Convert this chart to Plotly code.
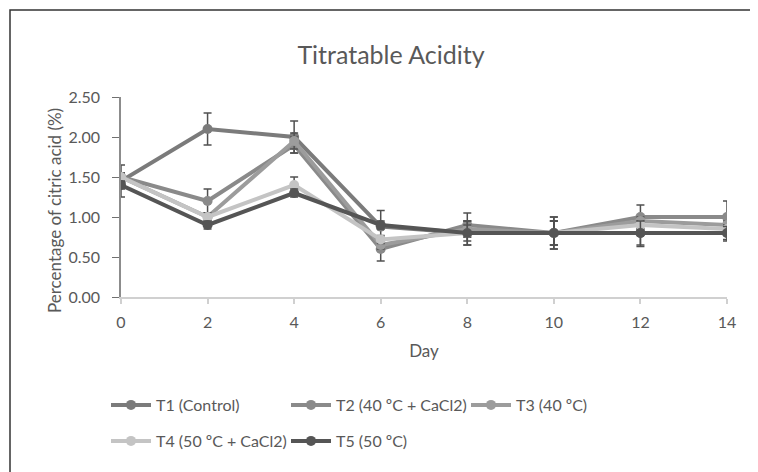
import plotly.graph_objects as go

days = [0, 2, 4, 6, 8, 10, 12, 14]
series_names = ["T1 (Control)", "T2 (40 ºC + CaCl2)", "T3 (40 ºC)", "T4 (50 ºC + CaCl2)", "T5 (50 ºC)"]
t1 = [1.45, 2.10, 2.00, 0.88, 0.80, 0.80, 0.80, 0.80]
t2 = [1.50, 1.20, 1.90, 0.60, 0.90, 0.80, 1.00, 1.00]
t3 = [1.50, 1.00, 1.95, 0.65, 0.85, 0.80, 0.95, 0.90]
t4 = [1.50, 1.00, 1.40, 0.72, 0.80, 0.80, 0.90, 0.85]
t5 = [1.40, 0.90, 1.30, 0.90, 0.80, 0.80, 0.80, 0.80]
e1 = [0.20, 0.20, 0.20, 0.20, 0.15, 0.20, 0.17, 0.10]
e2 = [0.05, 0.15, 0.10, 0.15, 0.15, 0.15, 0.15, 0.20]
e3 = [0.05, 0.05, 0.10, 0.05, 0.10, 0.15, 0.05, 0.05]
e4 = [0.05, 0.05, 0.10, 0.05, 0.10, 0.15, 0.05, 0.05]
e5 = [0.05, 0.05, 0.05, 0.05, 0.15, 0.20, 0.15, 0.08]

values = [t1, t2, t3, t4, t5]
errors = [e1, e2, e3, e4, e5]
colors = ["#7b7b7b", "#8a8a8a", "#9c9c9c", "#c4c4c4", "#555555"]
legends = ["legend", "legend", "legend", "legend2", "legend2"]

fig = go.Figure()
for name, v, e, c, lg in zip(series_names, values, errors, colors, legends):
    fig.add_trace(go.Scatter(
        x=days, y=v, name=name, mode="lines+markers",
        line=dict(color=c, width=4),
        marker=dict(color=c, size=10, symbol="circle"),
        error_y=dict(type="data", array=e, visible=True, color="#505050", thickness=1.5, width=4),
        legend=lg,
    ))

txt = "#595959"
font_family = "Lato, 'Open Sans', sans-serif"

OFF = 8  # page body offset
W, H = 758, 472
L, R, T, B = 113, 39, 89, 183
pw, ph = W - L - R, H - T - B

def px_x(x):
    return (x - OFF - L) / pw

def px_y(y):
    return (H - B - (y - OFF)) / ph

fig.update_layout(
    width=W, height=H,
    margin=dict(l=L, r=R, t=T, b=B, autoexpand=False),
    paper_bgcolor="white", plot_bgcolor="white",
    font=dict(family=font_family, color=txt, size=16),
    title=dict(text="Titratable Acidity", x=(391 - OFF) / W, xanchor="center", y=1 - (55 - OFF) / H, yanchor="middle",
               font=dict(size=25, color=txt, family=font_family)),
    xaxis=dict(range=[0, 14], tickvals=days, ticktext=[str(d) for d in days],
               showgrid=False, zeroline=False, showline=True, linecolor="#d0d0d0", linewidth=2,
               ticks="outside", ticklen=5, tickcolor="#d0d0d0", tickwidth=1.5,
               ticklabelstandoff=5,
               tickfont=dict(size=16, color=txt),
               title=dict(text="Day", font=dict(size=17, color=txt), standoff=15)),
    yaxis=dict(range=[0, 2.5], tickvals=[0, 0.5, 1.0, 1.5, 2.0, 2.5],
               ticktext=["0.00", "0.50", "1.00", "1.50", "2.00", "2.50"],
               showgrid=False, zeroline=False, showline=True, linecolor="#8c8c8c", linewidth=1.5,
               ticks="outside", ticklen=7, tickcolor="#707070", tickwidth=1.2,
               ticklabelstandoff=9,
               tickfont=dict(size=16, color=txt)),
    annotations=[dict(text="Percentage of citric acid (%)", xref="paper", yref="paper",
                      x=px_x(54), y=px_y(211), xanchor="center", yanchor="middle",
                      textangle=-90, showarrow=False, font=dict(size=17, color=txt))],
    legend=dict(orientation="h", x=px_x(106), xanchor="left", y=px_y(405), yanchor="middle",
                font=dict(size=16, color=txt), entrywidth=125, entrywidthmode="pixels",
                bgcolor="rgba(0,0,0,0)", itemwidth=40, tracegroupgap=0),
    legend2=dict(orientation="h", x=px_x(106), xanchor="left", y=px_y(441), yanchor="middle",
                 font=dict(size=16, color=txt), entrywidth=125, entrywidthmode="pixels",
                 bgcolor="rgba(0,0,0,0)", itemwidth=40, tracegroupgap=0),
    shapes=[dict(type="rect", xref="paper", yref="paper",
                 x0=px_x(10), x1=px_x(800), y0=px_y(520), y1=px_y(10),
                 line=dict(color="#333333", width=1.5), fillcolor="rgba(0,0,0,0)", layer="below")],
    showlegend=True,
)

fig.write_html("out.html")
